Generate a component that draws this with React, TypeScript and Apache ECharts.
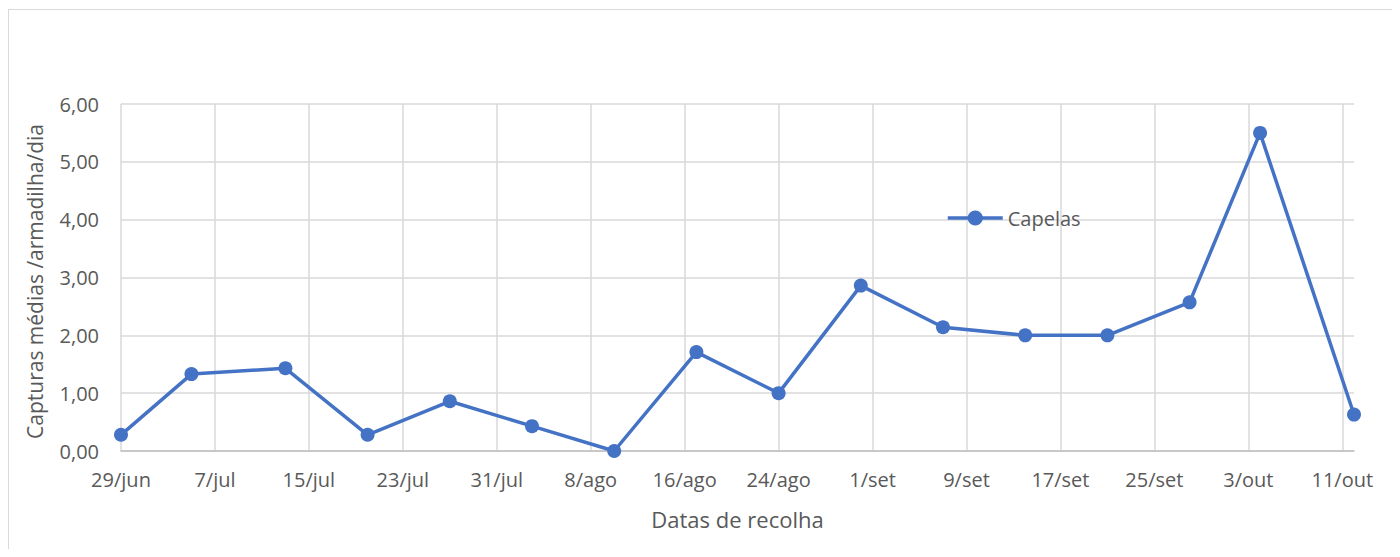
import React, { useEffect, useRef } from "react";
import * as echarts from "echarts";

// Collection dates (day/month, pt) and mean captures per trap per day
const dates = [
  "29/jun", "5/jul", "13/jul", "20/jul", "27/jul", "3/ago", "10/ago", "17/ago",
  "24/ago", "31/ago", "7/set", "14/set", "21/set", "28/set", "4/out", "12/out",
];
const capelas = [
  0.28, 1.33, 1.43, 0.28, 0.86, 0.43, 0.0, 1.71,
  1.0, 2.86, 2.14, 2.0, 2.0, 2.57, 5.5, 0.63,
];
const seriesName = "Capelas";
const xAxisTitle = "Datas de recolha";
const yAxisTitle = "Capturas médias /armadilha/dia";

// month offsets relative to 29/jun (day 0)
const monthNames = ["jun", "jul", "ago", "set", "out"];
const monthStart = [-29, 1, 32, 63, 93]; // offset = monthStart + day
const monthLen = [30, 31, 31, 30, 31];

function toOffset(label: string): number {
  const [d, m] = label.split("/");
  const i = monthNames.indexOf(m);
  return monthStart[i] + parseInt(d, 10);
}
function toLabel(off: number): string {
  for (let i = monthNames.length - 1; i >= 0; i--) {
    const d = off - monthStart[i];
    if (d >= 1 && d <= monthLen[i]) return d + "/" + monthNames[i];
  }
  return "";
}

const FONT = "'Open Sans', sans-serif";
const TEXT = "#595959";
const BLUE = "#4472C4";

export default function App() {
  const ref = useRef<HTMLDivElement>(null);
  useEffect(() => {
    if (!ref.current) return;
    const chart = echarts.init(ref.current, undefined, { renderer: "svg" });
    const data = dates.map((d, i) => [toOffset(d), capelas[i]]);
    chart.setOption({
      animation: false,
      textStyle: { fontFamily: FONT },
      grid: { left: 112, top: 94, width: 1233, height: 347, containLabel: false },
      legend: {
        data: [seriesName],
        left: 932,
        top: 193,
        itemWidth: 55,
        itemHeight: 19,
        lineStyle: { width: 3.5, color: BLUE },
        textStyle: { fontSize: 20, color: TEXT, fontFamily: FONT },
      },
      xAxis: {
        type: "value",
        min: 0,
        max: 105,
        interval: 8,
        name: xAxisTitle,
        nameLocation: "middle",
        nameGap: 57,
        nameTextStyle: { fontSize: 22, color: TEXT, fontFamily: FONT },
        axisLine: { show: true, lineStyle: { color: "#bfbfbf", width: 1.5 } },
        axisTick: { show: false },
        axisLabel: {
          fontSize: 20,
          color: TEXT,
          margin: 18,
          showMaxLabel: false,
          fontFamily: FONT,
          formatter: (v: number) => (v % 8 === 0 ? toLabel(v) : ""),
        },
        splitLine: {
          show: true,
          showMaxLine: false,
          lineStyle: { color: "#d9d9d9", width: 1.5 },
        },
      },
      yAxis: {
        type: "value",
        min: 0,
        max: 6,
        interval: 1,
        name: yAxisTitle,
        nameLocation: "middle",
        nameGap: 76,
        nameTextStyle: {
          fontSize: 21,
          color: TEXT,
          fontFamily: FONT,
          padding: [0, 8, 0, 0],
        },
        axisLine: { show: false },
        axisTick: { show: false },
        axisLabel: {
          fontSize: 20,
          color: TEXT,
          margin: 22,
          fontFamily: FONT,
          formatter: (v: number) => v.toFixed(2).replace(".", ","),
        },
        splitLine: { show: true, lineStyle: { color: "#d9d9d9", width: 1.5 } },
      },
      series: [
        {
          name: seriesName,
          type: "line",
          data,
          symbol: "circle",
          symbolSize: 14,
          clip: false,
          itemStyle: { color: BLUE },
          lineStyle: { color: BLUE, width: 3.5 },
        },
      ],
    });
    return () => chart.dispose();
  }, []);
  return (
    <div
      style={{
        width: 1384,
        height: 540,
        marginTop: 1,
        borderTop: "1px solid #d9d9d9",
        borderLeft: "1px solid #d9d9d9",
        boxSizing: "border-box",
        background: "#fff",
      }}
    >
      <div ref={ref} style={{ width: 1383, height: 539 }} />
    </div>
  );
}
